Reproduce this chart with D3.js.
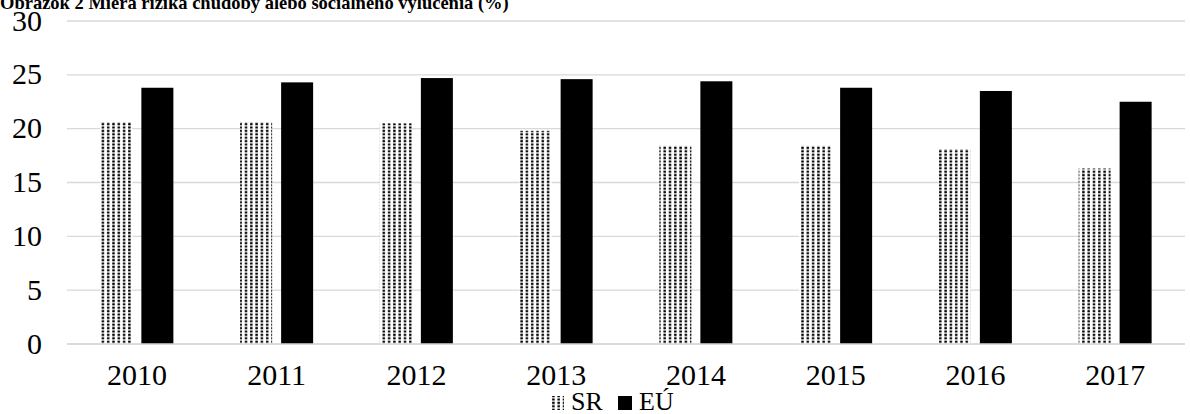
<!DOCTYPE html>
<html><head><meta charset="utf-8">
<script src="https://cdn.jsdelivr.net/npm/d3@7"></script>
<style>body{margin:0;background:#fff}svg{display:block}</style>
</head><body><svg id="c" width="1190" height="414" font-family="'Liberation Serif', 'Times New Roman', Times, serif"></svg>
<script>
const title = "Obrázok 2 Miera rizika chudoby alebo sociálneho vylúčenia (%)";
const years = ["2010","2011","2012","2013","2014","2015","2016","2017"];
const seriesNames = ["SR","EÚ"];
const sr = [20.6,20.6,20.5,19.8,18.4,18.4,18.1,16.3];
const eu = [23.8,24.3,24.7,24.6,24.4,23.8,23.5,22.5];
const yTicks = [0,5,10,15,20,25,30];

const svg = d3.select("#c");
const defs = svg.append("defs");
const pat = defs.append("pattern").attr("id","dots").attr("patternUnits","userSpaceOnUse")
  .attr("width",5.3).attr("height",3.4);
pat.append("rect").attr("width",5.3).attr("height",3.4).attr("fill","#fff");
pat.append("rect").attr("x",1).attr("y",0.6).attr("width",2.4).attr("height",2.2).attr("fill","#000");

const m = {l:67, r:1185, t:21, b:344};
const x = d3.scaleBand().domain(years).range([m.l,m.r]);
const y = d3.scaleLinear().domain([0,30]).range([m.b,m.t]);

svg.append("g").selectAll("line").data(yTicks).join("line")
  .attr("x1",m.l).attr("x2",m.r).attr("y1",d=>y(d)).attr("y2",d=>y(d))
  .attr("stroke","#d9d9d9").attr("stroke-width",1.3);
svg.append("g").selectAll("text").data(yTicks).join("text")
  .attr("x",42).attr("y",d=>y(d)+9.5).attr("text-anchor","end").attr("font-size",30).text(d=>d);

svg.append("text").attr("x",0).attr("y",9).attr("font-weight","bold").attr("font-size",18.5).text(title);

const bw = 32, gap = 9;
const data = [sr, eu];
const fills = ["url(#dots)","#000"];
data.forEach((vals,si)=>{
  svg.append("g").selectAll("rect").data(years).join("rect")
    .attr("x",d=>x(d)+x.bandwidth()/2 - bw - gap/2 + si*(bw+gap))
    .attr("width",bw)
    .attr("y",(d,i)=>y(vals[i]))
    .attr("height",(d,i)=>m.b - y(vals[i]))
    .attr("fill",fills[si]);
});
svg.append("line").attr("x1",m.l).attr("x2",m.r).attr("y1",y(0)).attr("y2",y(0)).attr("stroke","#d9d9d9").attr("stroke-width",1.3);

svg.append("g").selectAll("text").data(years).join("text")
  .attr("x",d=>x(d)+x.bandwidth()/2).attr("y",385).attr("text-anchor","middle").attr("font-size",30).text(d=>d);

// legend
const lg = svg.append("g");
const lx = [550, 618];
seriesNames.forEach((n,i)=>{
  lg.append("rect").attr("x",lx[i]).attr("y",396).attr("width",14).attr("height",14).attr("fill",fills[i]);
  lg.append("text").attr("x",lx[i]+21).attr("y",410).attr("font-size",26).text(n);
});
</script></body></html>
